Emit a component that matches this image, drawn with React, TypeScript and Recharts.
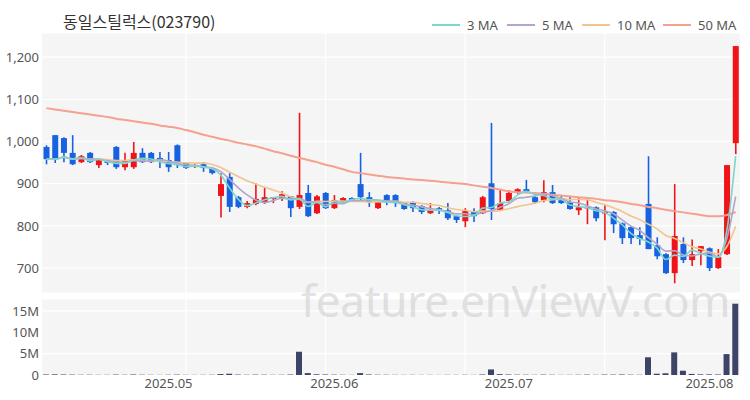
import React from "react";
import {
  ComposedChart,
  Bar,
  Line,
  XAxis,
  YAxis,
  CartesianGrid,
} from "recharts";

const dates = [
  "2025-04-11", "2025-04-14", "2025-04-15", "2025-04-16", "2025-04-17", "2025-04-18",
  "2025-04-21", "2025-04-22", "2025-04-23", "2025-04-24", "2025-04-25",
  "2025-04-28", "2025-04-29", "2025-04-30",
  "2025-05-02", "2025-05-07", "2025-05-08", "2025-05-09",
  "2025-05-12", "2025-05-13", "2025-05-14", "2025-05-15", "2025-05-16",
  "2025-05-19", "2025-05-20", "2025-05-21", "2025-05-22", "2025-05-23",
  "2025-05-26", "2025-05-27", "2025-05-28", "2025-05-29", "2025-05-30",
  "2025-06-02", "2025-06-03", "2025-06-04", "2025-06-05",
  "2025-06-09", "2025-06-10", "2025-06-11", "2025-06-12", "2025-06-13",
  "2025-06-16", "2025-06-17", "2025-06-18", "2025-06-19", "2025-06-20",
  "2025-06-23", "2025-06-24", "2025-06-25", "2025-06-26", "2025-06-27",
  "2025-06-30",
  "2025-07-01", "2025-07-02", "2025-07-03", "2025-07-04",
  "2025-07-07", "2025-07-08", "2025-07-09", "2025-07-10", "2025-07-11",
  "2025-07-14", "2025-07-15", "2025-07-16", "2025-07-17", "2025-07-18",
  "2025-07-21", "2025-07-22", "2025-07-23", "2025-07-24", "2025-07-25",
  "2025-07-28", "2025-07-29", "2025-07-30", "2025-07-31",
  "2025-08-01", "2025-08-04", "2025-08-05", "2025-08-06",
];

const opens = [
  987, 1015, 1008, 973, 951, 973, 944, 956, 987, 939, 939, 973, 973, 961,
  956, 991, 949, 940, 946, 937, 871, 916, 868, 845, 852, 856, 864, 864, 870,
  845, 878, 830, 878, 842, 856, 866, 899, 868, 842, 873, 873, 854, 856, 847,
  830, 842, 837, 823, 811, 833, 830, 901, 838, 859, 878, 887, 868, 861, 880,
  861, 856, 837, 842, 844, 830, 833, 806, 797, 778, 852, 754, 733, 688, 757,
  719, 740, 747, 700, 733, 996,
];
const highs = [
  991, 1015, 1010, 1015, 968, 975, 956, 958, 989, 973, 999, 984, 975, 975,
  975, 993, 951, 946, 951, 939, 925, 925, 871, 859, 901, 890, 868, 882, 871,
  1068, 897, 873, 880, 873, 868, 868, 973, 880, 856, 875, 875, 856, 858, 849,
  854, 845, 854, 825, 842, 842, 871, 1044, 885, 885, 889, 909, 870, 908, 897,
  873, 871, 868, 866, 846, 849, 835, 808, 799, 797, 965, 773, 735, 899, 773,
  768, 752, 749, 745, 944, 1226,
];
const lows = [
  946, 949, 951, 944, 949, 949, 937, 944, 935, 932, 935, 949, 949, 937,
  928, 937, 935, 937, 928, 922, 820, 833, 842, 842, 849, 852, 854, 859, 821,
  840, 821, 828, 840, 840, 854, 859, 859, 845, 840, 849, 845, 838, 833, 828,
  828, 828, 814, 807, 797, 809, 828, 814, 835, 856, 876, 878, 852, 856, 852,
  852, 838, 826, 804, 811, 766, 783, 757, 757, 755, 745, 721, 686, 664, 712,
  705, 707, 693, 698, 731, 970,
];
const closes = [
  958, 958, 973, 946, 965, 951, 956, 949, 939, 956, 973, 951, 951, 954,
  939, 944, 937, 944, 937, 925, 899, 845, 845, 854, 864, 868, 868, 875, 842,
  873, 823, 870, 842, 861, 866, 861, 868, 856, 856, 856, 854, 840, 842, 833,
  837, 840, 818, 814, 835, 823, 868, 840, 854, 878, 887, 880, 856, 880, 854,
  854, 840, 844, 845, 818, 833, 804, 771, 771, 769, 745, 728, 688, 776, 719,
  733, 752, 700, 726, 944, 1226,
];
const volumes = [
  120000, 150000, 100000, 90000, 60000, 70000, 50000, 50000, 100000, 60000,
  120000, 70000, 50000, 40000, 60000, 90000, 50000, 40000, 50000, 60000,
  220000, 300000, 100000, 60000, 90000, 70000, 50000, 60000, 110000, 5450000,
  450000, 160000, 120000, 80000, 60000, 40000, 450000, 120000, 70000, 60000,
  50000, 40000, 50000, 40000, 40000, 30000, 50000, 40000, 60000, 40000,
  120000, 1300000, 200000, 120000, 80000, 70000, 50000, 90000, 60000, 40000,
  50000, 60000, 90000, 50000, 100000, 90000, 120000, 80000, 60000, 4150000,
  300000, 400000, 5300000, 1000000, 250000, 150000, 150000, 120000, 4900000, 16700000,
];
// 50일선은 앞쪽 데이터가 없어서 그림에서 읽은 값
const ma50 = [
  1079, 1076, 1073, 1070, 1067, 1064, 1061, 1058, 1054, 1051, 1048, 1045, 1042,
  1038, 1035, 1032, 1027, 1022, 1016, 1011, 1006, 1002, 997, 993, 989, 983,
  977, 972, 966, 961, 956, 951, 945, 940, 934, 928, 925, 922, 919, 916, 914,
  912, 910, 909, 907, 905, 903, 901, 899, 896, 893, 890, 886, 882, 880, 879,
  878, 876, 874, 872, 870, 868, 866, 864, 861, 859, 856, 852, 849, 845, 842,
  838, 835, 832, 829, 826, 823, 823, 826, 833,
];

const priceTicks = [700, 800, 900, 1000, 1100, 1200];
const volumeTicks = [0, 5000000, 10000000, 15000000];
const monthTicks = ["2025-05-02", "2025-06-02", "2025-07-01", "2025-08-01"];

const UP = "#f01418";
const DOWN = "#1662e0";
const MA_COLORS = { ma3: "#7dd6cc", ma5: "#b2a6cc", ma10: "#f2c48e", ma50: "#f6a090" };
const FONT = "'Noto Sans', 'Noto Sans CJK KR', sans-serif";

const movingAvg = (n: number, i: number) => {
  const from = Math.max(0, i - n + 1);
  const slice = closes.slice(from, i + 1);
  return slice.reduce((a, b) => a + b, 0) / slice.length;
};

const data = dates.map((date, i) => ({
  date,
  open: opens[i],
  high: highs[i],
  low: lows[i],
  close: closes[i],
  range: [lows[i], highs[i]],
  volume: volumes[i],
  ma3: movingAvg(3, i),
  ma5: movingAvg(5, i),
  ma10: movingAvg(10, i),
  ma50: ma50[i],
}));

const Candle = (props: any) => {
  const { x, y, width, height, payload } = props;
  if (!payload) return null;
  const { open, close, high, low } = payload;
  const color = close >= open ? UP : DOWN;
  const top0 = height < 0 ? y + height : y;
  const h = Math.abs(height);
  const ratio = high - low > 0 ? h / (high - low) : 0;
  const cx = x + width / 2;
  const bTop = top0 + (high - Math.max(open, close)) * ratio;
  const bBot = top0 + (high - Math.min(open, close)) * ratio;
  const bw = 6;
  return (
    <g>
      <line x1={cx} x2={cx} y1={top0} y2={top0 + h} stroke={color} strokeWidth={1.6} />
      <rect x={cx - bw / 2} y={bTop} width={bw} height={Math.max(1.5, bBot - bTop)} fill={color} />
    </g>
  );
};

// 세로 격자: 16봉 간격
const gridCols = (p: any) => {
  const off = p && p.offset ? p.offset : { left: 42, width: 698 };
  return [16, 32, 48, 64].map((i) => off.left + (off.width * (i + 0.5)) / dates.length);
};

const tickStyle = { fontSize: 13, fill: "#555", fontFamily: FONT };

const legendItems = [
  { label: "3 MA", color: MA_COLORS.ma3, left: 432 },
  { label: "5 MA", color: MA_COLORS.ma5, left: 507 },
  { label: "10 MA", color: MA_COLORS.ma10, left: 582 },
  { label: "50 MA", color: MA_COLORS.ma50, left: 663 },
];

export default function App() {
  return (
    <div style={{ position: "relative", width: 750, height: 400, background: "#fff", fontFamily: FONT }}>
      <style>{"body{margin:0}"}</style>
      <div
        style={{
          position: "absolute",
          left: 63,
          top: 9,
          fontSize: 16,
          color: "#333",
          fontFamily: "'Noto Sans CJK KR', sans-serif",
        }}
      >
        동일스틸럭스(023790)
      </div>
      {legendItems.map((it) => (
        <div
          key={it.label}
          style={{ position: "absolute", left: it.left, top: 16, display: "flex", alignItems: "center", fontSize: 13, color: "#555" }}
        >
          <span style={{ display: "inline-block", width: 28, height: 2, background: it.color, marginRight: 7 }} />
          <span>{it.label}</span>
        </div>
      ))}

      <div style={{ position: "absolute", left: 0, top: 0 }}>
        <ComposedChart width={750} height={295} data={data} margin={{ top: 33, right: 10, bottom: 2, left: 0 }} barCategoryGap="0%">
          <CartesianGrid fill="#f5f5f6" stroke="#fff" strokeWidth={1.2} verticalCoordinatesGenerator={gridCols} />
          <XAxis dataKey="date" hide />
          <YAxis
            width={42}
            domain={[641, 1257]}
            ticks={priceTicks}
            allowDataOverflow
            axisLine={false}
            tickLine={false}
            tickSize={0}
            tickMargin={3}
            tick={tickStyle}
            tickFormatter={(v: number) => v.toLocaleString("en-US")}
          />
          <Bar dataKey="range" shape={<Candle />} isAnimationActive={false} />
          <Line dataKey="ma50" stroke={MA_COLORS.ma50} strokeWidth={2} dot={false} isAnimationActive={false} type="monotone" />
          <Line dataKey="ma10" stroke={MA_COLORS.ma10} strokeWidth={1.6} dot={false} isAnimationActive={false} type="monotone" />
          <Line dataKey="ma5" stroke={MA_COLORS.ma5} strokeWidth={1.6} dot={false} isAnimationActive={false} type="monotone" />
          <Line dataKey="ma3" stroke={MA_COLORS.ma3} strokeWidth={1.6} dot={false} isAnimationActive={false} type="monotone" />
        </ComposedChart>
      </div>

      <div style={{ position: "absolute", left: 0, top: 295 }}>
        <ComposedChart width={750} height={105} data={data} margin={{ top: 4, right: 10, bottom: 0, left: 0 }} barCategoryGap="0%">
          <CartesianGrid fill="#f5f5f6" stroke="#fff" strokeWidth={1.2} verticalCoordinatesGenerator={gridCols} />
          <XAxis
            dataKey="date"
            height={25}
            ticks={monthTicks}
            interval={0}
            axisLine={false}
            tickLine={false}
            tickSize={0}
            tickMargin={4}
            tick={tickStyle}
            tickFormatter={(d: string) => d.slice(0, 7).replace("-", ".")}
          />
          <YAxis
            width={42}
            domain={[0, 17800000]}
            ticks={volumeTicks}
            allowDataOverflow
            axisLine={false}
            tickLine={false}
            tickSize={0}
            tickMargin={3}
            tick={tickStyle}
            tickFormatter={(v: number) => (v === 0 ? "0" : v / 1000000 + "M")}
          />
          <Bar dataKey="volume" fill="#3e4468" barSize={6} isAnimationActive={false} />
        </ComposedChart>
      </div>

      <div
        style={{
          position: "absolute",
          left: 301,
          top: 270,
          fontSize: 44,
          color: "#c8c8c8",
          opacity: 0.5,
          pointerEvents: "none",
          whiteSpace: "nowrap",
          letterSpacing: -0.3,
        }}
      >
        feature.enViewV.com
      </div>
    </div>
  );
}
